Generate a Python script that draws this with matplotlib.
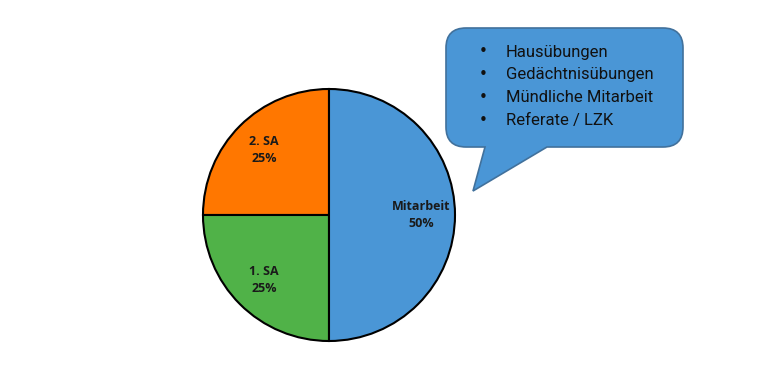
import matplotlib
matplotlib.use("Agg")
import matplotlib.pyplot as plt
from matplotlib.path import Path
from matplotlib.patches import PathPatch

# pie data (start at 12 o'clock, counter-clockwise)
labels = ["2. SA", "1. SA", "Mitarbeit"]
shares = [25, 25, 50]
colors = ["#FF7700", "#50B248", "#4A96D6"]

# items in the speech bubble
bubble_items = ["Hausübungen", "Gedächtnisübungen", "Mündliche Mitarbeit", "Referate / LZK"]

W, H = 764, 372
fig = plt.figure(figsize=(W / 100, H / 100), dpi=100)
ax = fig.add_axes([0, 0, 1, 1])

# pie, centre and radius in pixel units of the figure
wedges, texts, autotexts = ax.pie(
    shares, colors=colors, startangle=90, counterclock=True,
    center=(329, H - 215), radius=126, autopct="%1.0f%%", pctdistance=0.73,
    wedgeprops=dict(edgecolor="black", linewidth=1.5),
    textprops=dict(fontsize=9, fontweight="bold", color="#1a1a1a", family="Open Sans"),
    frame=True)
for t, lab in zip(autotexts, labels):
    t.set_text(lab + "\n" + t.get_text())
    t.set_linespacing(1.45)
ax.set_xlim(0, W)
ax.set_ylim(0, H)
ax.set_aspect("equal")
ax.axis("off")

# speech bubble: rounded box with a tail pointing down-left
x0, x1, yb, yt, r = 446, 683, H - 147, H - 28, 20
tip = (473, H - 191)
verts = [
    (547, yb), (x1 - r, yb), (x1, yb), (x1, yb + r),
    (x1, yt - r), (x1, yt), (x1 - r, yt),
    (x0 + r, yt), (x0, yt), (x0, yt - r),
    (x0, yb + r), (x0, yb), (x0 + r, yb),
    (485, yb), tip, (547, yb), (547, yb),
]
codes = [Path.MOVETO, Path.LINETO, Path.CURVE3, Path.CURVE3,
         Path.LINETO, Path.CURVE3, Path.CURVE3,
         Path.LINETO, Path.CURVE3, Path.CURVE3,
         Path.LINETO, Path.CURVE3, Path.CURVE3,
         Path.LINETO, Path.LINETO, Path.LINETO, Path.CLOSEPOLY]
ax.add_patch(PathPatch(Path(verts, codes), facecolor="#4A96D6",
                       edgecolor="#41719C", linewidth=1.2, zorder=3))

for i, item in enumerate(bubble_items):
    y = H - 52 - i * 22.7
    ax.text(483, y, "•", fontsize=11, color="#111111", ha="center", va="center",
            family="DejaVu Sans", zorder=4)
    ax.text(506, y, item, fontsize=12, color="#111111", ha="left", va="center",
            family="Roboto", zorder=4)

fig.savefig("out.png", dpi=100)
